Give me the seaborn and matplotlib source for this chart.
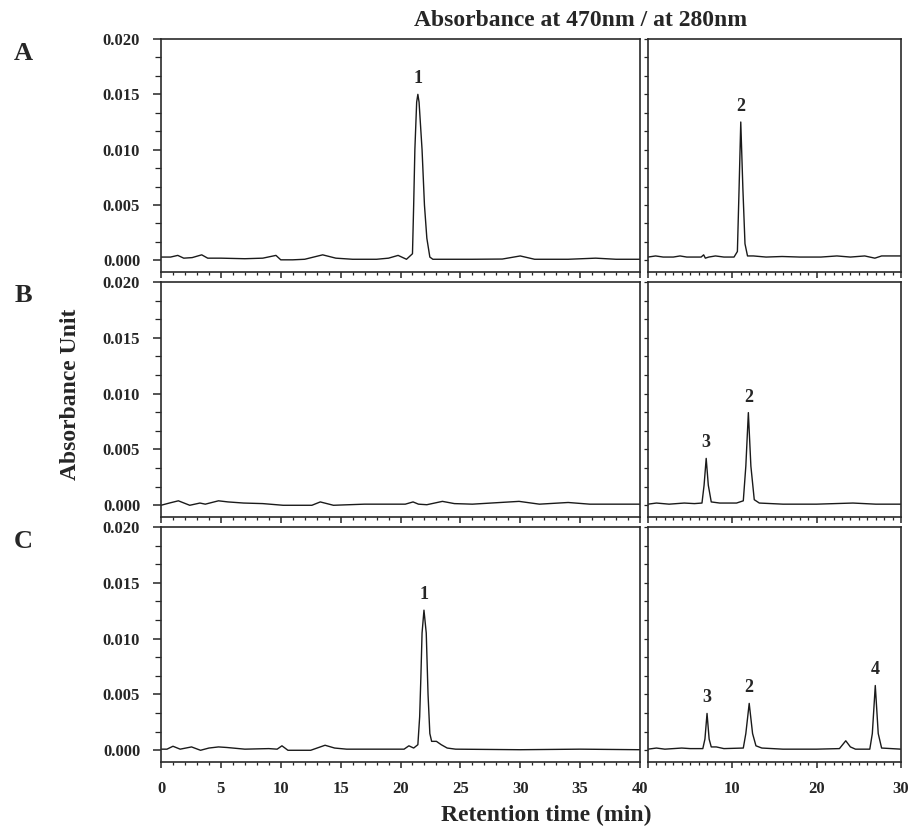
import numpy as np
import pandas as pd
import matplotlib
matplotlib.use("Agg")
import matplotlib.pyplot as plt
import seaborn as sns
from matplotlib.ticker import MultipleLocator, FormatStrFormatter, AutoMinorLocator

# --- traces: retention time (min) / absorbance (AU) ---
# A, 470 nm
a470_t = [0, 0.8, 1.4, 1.9, 2.6, 3.4, 3.9, 5.0, 7.0, 8.5, 9.6, 10.0, 11.0, 12.0, 13.5, 14.6,
          16.0, 18.0, 19.0, 19.8, 20.5, 20.8, 21.0, 21.1, 21.2, 21.35, 21.45, 21.55, 21.8, 22.0,
          22.2, 22.45, 22.7, 26.0, 28.5, 30.0, 31.2, 34.0, 36.3, 38.0, 40.0]
a470_y = [0.0003, 0.0003, 0.00045, 0.0002, 0.00025, 0.0005, 0.0002, 0.0002, 0.00015, 0.0002,
          0.00045, 0.00005, 0.00005, 0.0001, 0.0005, 0.0002, 0.0001, 0.0001, 0.0002, 0.00045,
          0.0001, 0.0004, 0.0006, 0.005, 0.010, 0.0143, 0.015, 0.0143, 0.010, 0.005,
          0.002, 0.0003, 0.0001, 0.0001, 0.00012, 0.0004, 0.0001, 0.0001, 0.0002, 0.0001, 0.0001]
# A, 280 nm
a280_t = [0, 0.9, 1.8, 3.0, 3.8, 4.6, 6.3, 6.6, 6.8, 7.2, 8.0, 9.0, 10.2, 10.6, 10.8, 11.0,
          11.25, 11.5, 11.8, 12.5, 14.0, 15.9, 18.0, 20.5, 22.4, 24.0, 25.7, 26.9, 27.7, 30.0]
a280_y = [0.0003, 0.0004, 0.0003, 0.0003, 0.0004, 0.0003, 0.0003, 0.0005, 0.0002, 0.0003,
          0.0004, 0.0003, 0.0003, 0.0008, 0.0065, 0.0125, 0.0065, 0.0015, 0.0004, 0.0004,
          0.0003, 0.00035, 0.0003, 0.0003, 0.0004, 0.0003, 0.0004, 0.0002, 0.0004, 0.0004]
# B, 470 nm
b470_t = [0, 0.7, 1.45, 2.4, 3.25, 3.7, 4.8, 5.6, 6.9, 8.5, 10.2, 12.6, 13.3, 14.4, 17.0,
          20.4, 21.05, 21.5, 22.2, 23.5, 24.5, 26.0, 29.9, 31.6, 34.0, 35.8, 40.0]
b470_y = [0.0, 0.0002, 0.0004, 0.0, 0.0002, 0.0001, 0.0004, 0.0003, 0.0002, 0.00015,
          0.0, 0.0, 0.0003, 0.0, 0.0001, 0.0001, 0.0003, 0.0001, 0.00005, 0.00035,
          0.00015, 0.0001, 0.00035, 0.0001, 0.00025, 0.0001, 0.0001]
# B, 280 nm
b280_t = [0, 1.0, 2.5, 4.3, 5.5, 6.4, 6.65, 6.9, 7.15, 7.5, 8.5, 10.5, 11.3, 11.6, 11.9,
          12.2, 12.6, 13.2, 16.0, 20.0, 24.3, 27.0, 30.0]
b280_y = [0.0001, 0.0002, 0.0001, 0.0002, 0.00015, 0.0002, 0.0018, 0.0042, 0.0018, 0.0003,
          0.0002, 0.0002, 0.0004, 0.0035, 0.0083, 0.0035, 0.0005, 0.0002, 0.0001, 0.0001,
          0.0002, 0.0001, 0.0001]
# C, 470 nm
c470_t = [0, 0.5, 1.0, 1.6, 2.55, 3.3, 4.0, 4.8, 5.5, 7.0, 9.0, 9.7, 10.1, 10.6, 12.5, 13.7,
          14.5, 15.5, 20.3, 20.7, 21.1, 21.45, 21.6, 21.7, 21.8, 21.96, 22.15, 22.3, 22.45, 22.6,
          23.0, 23.4, 23.9, 24.6, 30.0, 35.0, 40.0]
c470_y = [0.0001, 0.0001, 0.00036, 0.0001, 0.0003, 0.0, 0.0002, 0.0003, 0.00025, 0.0001,
          0.00015, 0.0001, 0.0004, 0.0, 0.0, 0.00045, 0.0002, 0.0001, 0.0001, 0.0004,
          0.0002, 0.0005, 0.003, 0.0065, 0.0105, 0.01255, 0.0105, 0.005, 0.0015, 0.0008,
          0.0008, 0.0005, 0.0002, 0.0001, 0.00005, 0.0001, 0.00005]
# C, 280 nm
c280_t = [0, 1.0, 2.0, 4.0, 5.0, 6.5, 6.75, 7.0, 7.25, 7.5, 8.1, 9.0, 11.3, 11.6, 12.0,
          12.4, 12.8, 13.5, 16.0, 20.0, 22.7, 23.45, 24.0, 24.6, 26.3, 26.6, 26.95, 27.3, 27.7, 30.0]
c280_y = [0.0001, 0.0002, 0.0001, 0.0002, 0.00015, 0.00015, 0.001, 0.0033, 0.001, 0.0003,
          0.0003, 0.00015, 0.0002, 0.0015, 0.0042, 0.0015, 0.0004, 0.0002, 0.0001, 0.0001,
          0.00015, 0.00085, 0.0003, 0.0001, 0.0001, 0.0015, 0.0058, 0.0015, 0.0002, 0.0001]

# peak numbers (label, retention time)
a470_peaks = [("1", 21.45)]
a280_peaks = [("2", 11.0)]
b470_peaks = []
b280_peaks = [("3", 6.9), ("2", 11.9)]
c470_peaks = [("1", 21.96)]
c280_peaks = [("3", 7.0), ("2", 12.0), ("4", 26.95)]

row_letters = ["A", "B", "C"]

# --- style ---
sns.set_style("ticks")
plt.rcParams["font.family"] = ["Liberation Serif", "DejaVu Serif"]
plt.rcParams["font.weight"] = "bold"

W, H = 908, 831
fig = plt.figure(figsize=(W / 100, H / 100), dpi=100)

rows_px = [(39, 272), (282, 517), (527, 762)]       # top, bottom of each row
left_px, right_px = (161, 640), (648, 901)

traces = [
    [(a470_t, a470_y, a470_peaks), (a280_t, a280_y, a280_peaks)],
    [(b470_t, b470_y, b470_peaks), (b280_t, b280_y, b280_peaks)],
    [(c470_t, c470_y, c470_peaks), (c280_t, c280_y, c280_peaks)],
]

ink = "#1a1a1a"
for r, (top, bot) in enumerate(rows_px):
    for c, (x0, x1) in enumerate([left_px, right_px]):
        ax = fig.add_axes([x0 / W, 1 - bot / H, (x1 - x0) / W, (bot - top) / H])
        t, y, peaks = traces[r][c]
        df = pd.DataFrame({"time": t, "abs": y})
        sns.lineplot(data=df, x="time", y="abs", ax=ax, color=ink, lw=1.0,
                     estimator=None, sort=False)
        ax.set_xlabel("")
        ax.set_ylabel("")
        ax.set_ylim(-0.00105, 0.020)
        ax.yaxis.set_major_locator(MultipleLocator(0.005))
        ax.yaxis.set_minor_locator(AutoMinorLocator(3))
        for s in ax.spines.values():
            s.set_linewidth(1.2)
            s.set_color("#2a2a2a")

        if c == 0:
            ax.set_xlim(0, 40)
            ax.xaxis.set_major_locator(MultipleLocator(5))
            ax.yaxis.set_major_formatter(FormatStrFormatter("%.3f"))
            ax.tick_params(axis="y", which="major", direction="out", length=6, width=1.1,
                           pad=9, labelsize=12)
            ax.tick_params(axis="y", which="minor", direction="out", length=4, width=0.9)
        else:
            ax.set_xlim(0, 30)
            ax.xaxis.set_major_locator(MultipleLocator(10))
            ax.tick_params(axis="y", which="both", direction="out", length=3, width=0.9,
                           labelleft=False)
        ax.xaxis.set_minor_locator(MultipleLocator(1))
        ax.tick_params(axis="x", which="major", direction="out", length=4, width=1.1,
                       pad=10, labelsize=12)
        ax.tick_params(axis="x", which="minor", direction="out", length=2.5, width=0.9)

        if r < 2:
            ax.tick_params(axis="x", labelbottom=False)
        elif c == 1:
            ax.set_xticks([0, 10, 20, 30])
            ax.set_xticklabels(["", "10", "20", "30"])

        for lab, rt in peaks:
            ypk = np.interp(rt, t, y)
            ax.annotate(lab, (rt, ypk), xytext=(0, 8), textcoords="offset points",
                        ha="center", va="baseline", fontsize=13, fontweight="bold")

    fig.text(23 / W, 1 - (top + 14) / H, row_letters[r], ha="center", va="center",
             fontsize=19, fontweight="bold")

fig.text(581 / W, 1 - 20 / H, "Absorbance at 470nm / at 280nm", ha="center", va="center",
         fontsize=17, fontweight="bold")
fig.text(71 / W, 1 - 394 / H, "Absorbance Unit", rotation=90, ha="center", va="center",
         fontsize=17, fontweight="bold")
fig.text(546 / W, 1 - 815 / H, "Retention time (min)", ha="center", va="center",
         fontsize=17, fontweight="bold")

fig.savefig("out.png", dpi=100, facecolor="white")
